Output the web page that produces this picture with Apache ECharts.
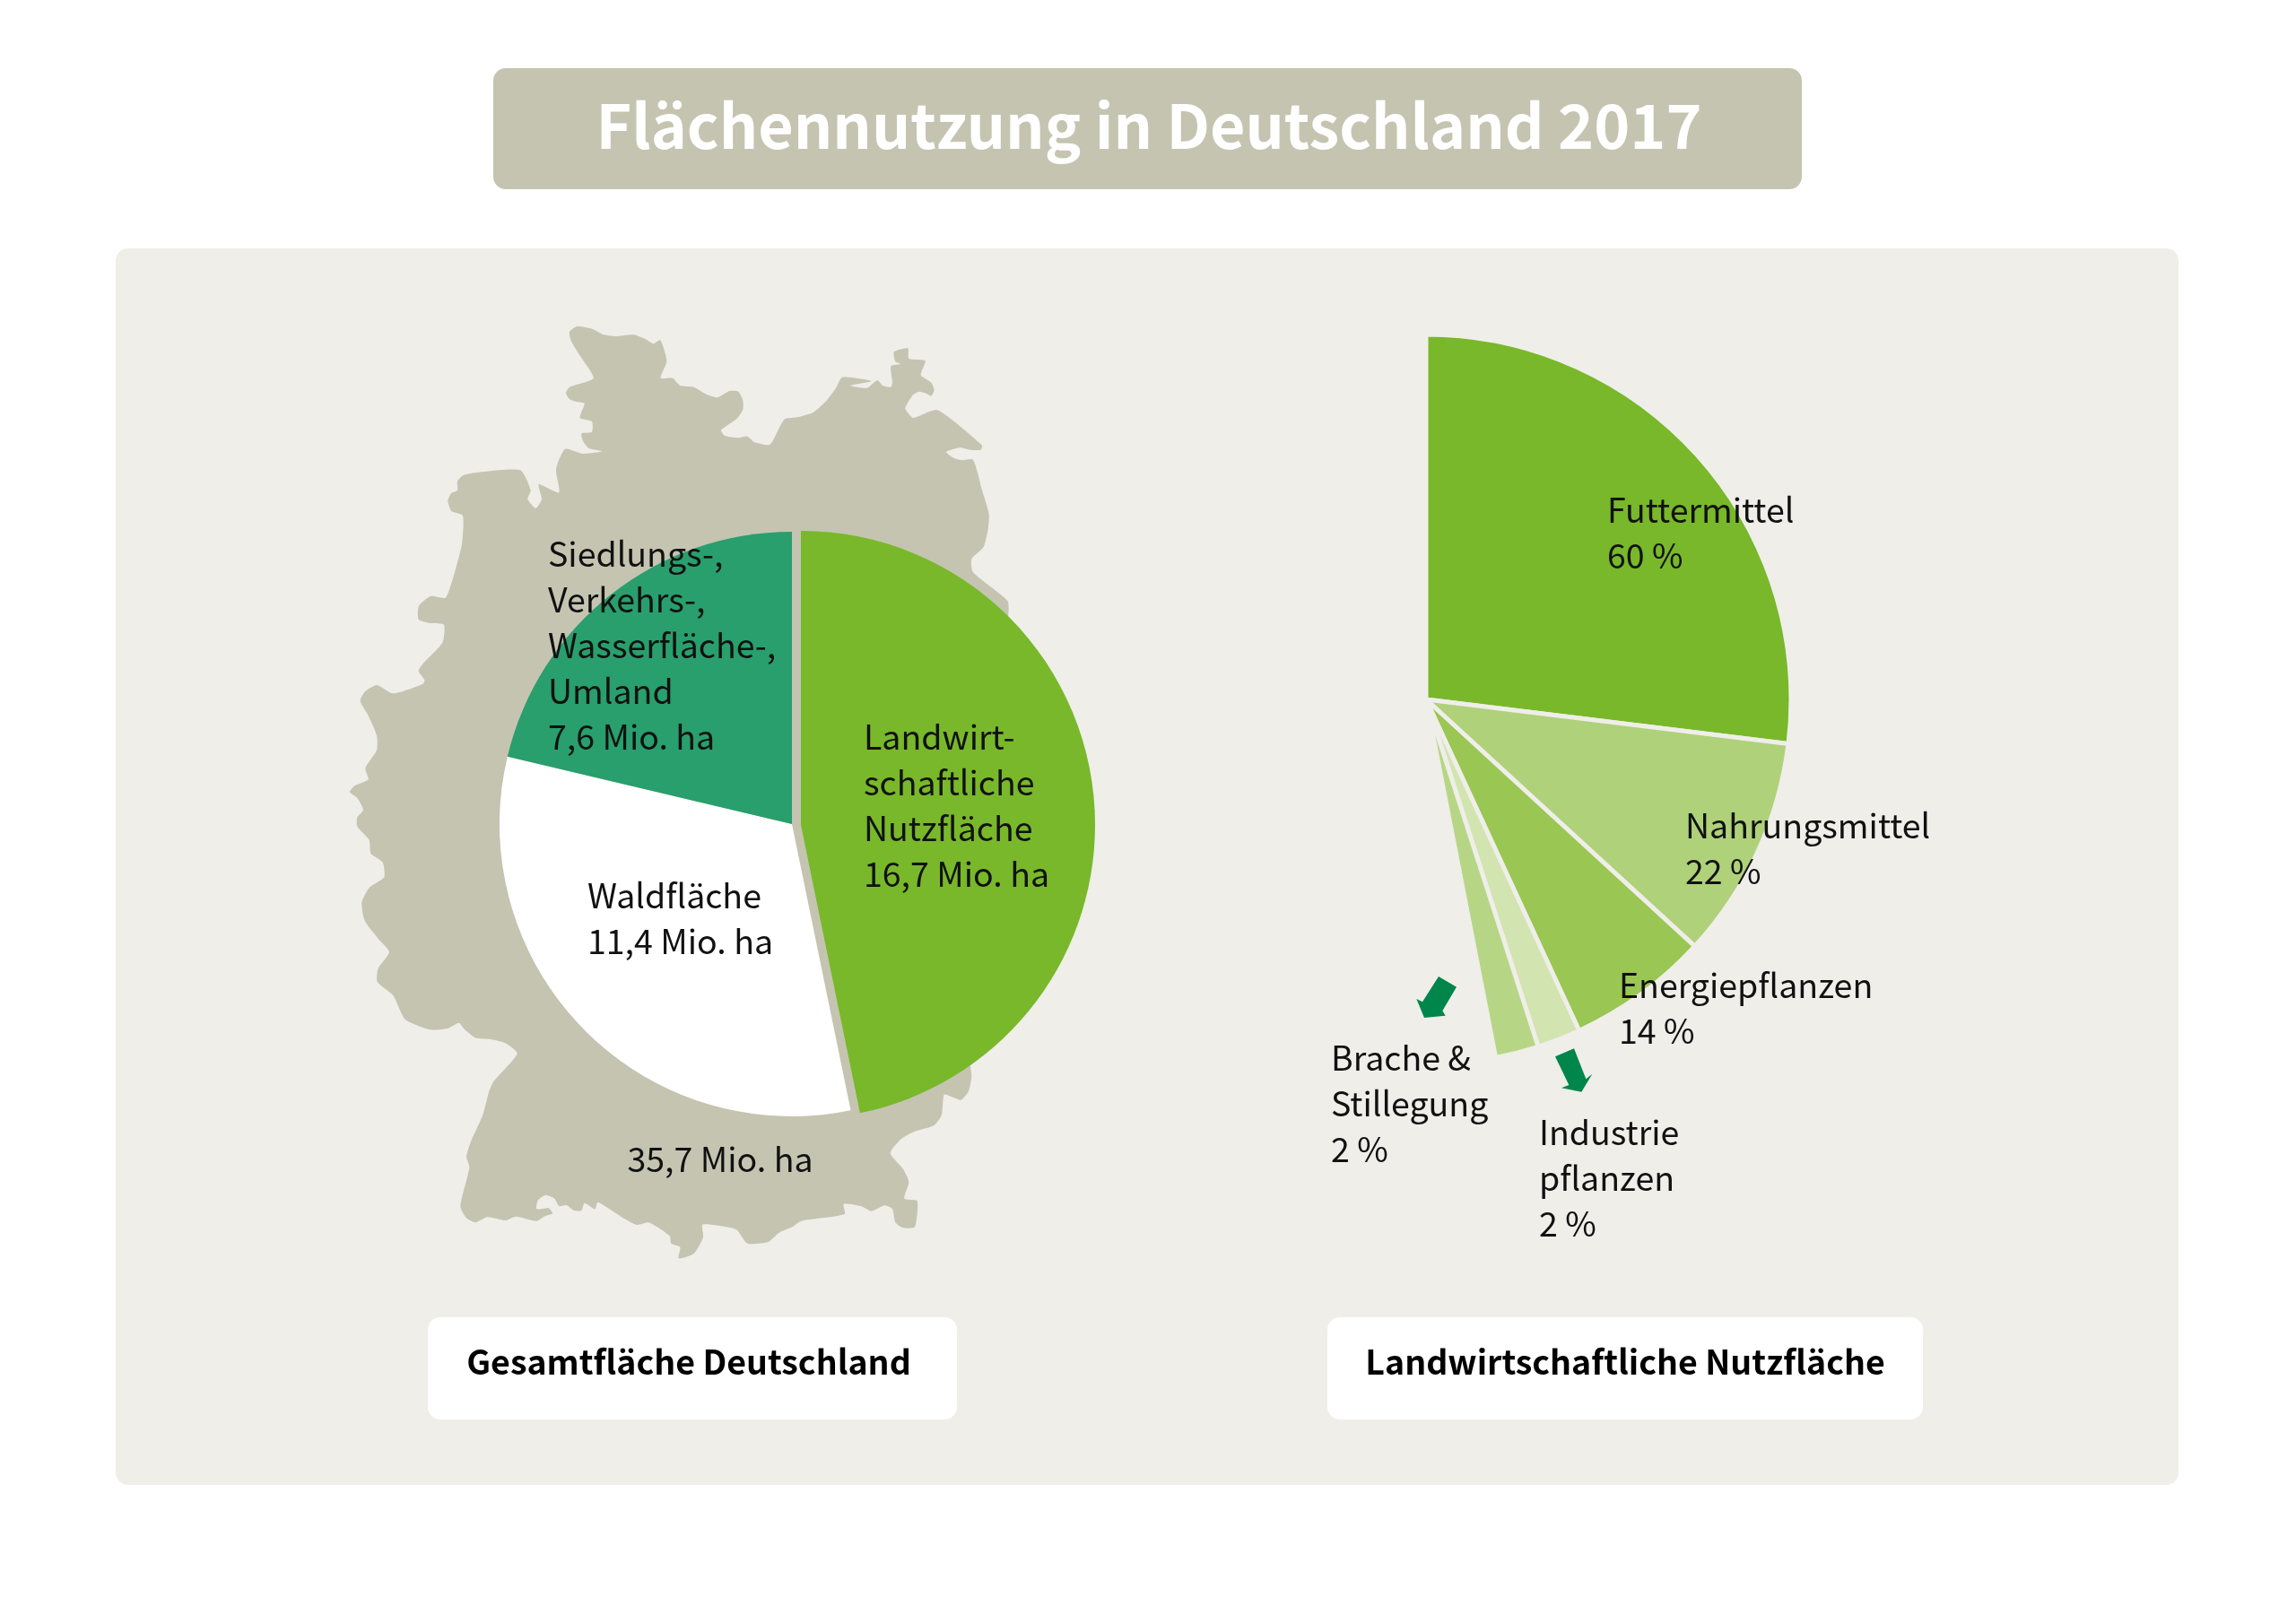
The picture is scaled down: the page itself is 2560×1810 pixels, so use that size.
<!DOCTYPE html>
<html>
<head>
<meta charset="utf-8">
<title>Flächennutzung in Deutschland 2017</title>
<script src="https://cdn.jsdelivr.net/npm/echarts@6/dist/echarts.min.js"></script>
<style>
html, body { margin: 0; padding: 0; background: #fff; }
#main { width: 2560px; height: 1810px; }
</style>
</head>
<body>
<div id="main"></div>
<script>
var titleText = 'Flächennutzung in Deutschland 2017';

// Gesamtfläche, Mio. ha
var totalLabel = '35,7 Mio. ha';
var areaNames = ['Landwirt-\nschaftliche\nNutzfläche', 'Waldfläche', 'Siedlungs-,\nVerkehrs-,\nWasserfläche-,\nUmland'];
var areaValues = [16.7, 11.4, 7.6];
var areaHeading = 'Gesamtfläche Deutschland';

// Landwirtschaftliche Nutzfläche, Prozent
var useNames = ['Futtermittel', 'Nahrungsmittel', 'Energiepflanzen', 'Industrie\npflanzen', 'Brache &\nStillegung'];
var useValues = [60, 22, 14, 2, 2];
var useHeading = 'Landwirtschaftliche Nutzfläche';

var FONT = '"Noto Sans CJK SC", "Noto Sans", sans-serif';
var TEXT = '#111111';
var MAP = '#c5c4b1';
var PANEL = '#efeee9';

var areaColors = ['#78b82a', '#ffffff', '#289f6c'];
var useColors = ['#78b82a', '#afd17a', '#9ac653', '#d2e4b0', '#b6d685'];

// label anchors (left, top) in page pixels
var areaLabelPos = [[963, 796], [655, 973], [611, 592]];
var useLabelPos = [[1792, 543], [1879, 895], [1805, 1073], [1716, 1237], [1484, 1154]];

var outline = [
    [480, 350, [465,60, 490,42, 540,50, 580,70, 620,75, 680,70, 720,85, 745,100, 768,88, 780,115, 790,160, 770,215,
        810,215, 835,240, 880,245, 925,270, 960,280, 1000,258, 1030,260, 1045,290, 1045,320, 1025,350, 990,375, 972,390]],
    [780, 350, [85,408, 130,415, 160,410, 185,430, 235,438, 265,385, 285,352, 330,345, 380,330, 425,290, 455,250, 478,212,
        575,225, 505,240, 560,248, 595,222, 612,240, 640,245, 645,230, 640,175, 672,168, 655,160, 650,127, 697,115, 700,150,
        755,157, 740,205, 775,230, 785,255, 775,275, 755,265, 735,260, 715,270, 695,300, 688,318, 715,348, 795,322, 945,440,
        940,455, 905,455, 870,448, 825,462, 850,482, 880,490, 915,488, 945,590, 968,670, 965,720, 950,780, 910,820, 915,865,
        1030,960, 1033,1005, 960,1650]],
    [780, 1100, [905,255, 910,300, 900,350, 875,380, 850,372, 818,362, 810,430, 785,465, 720,485, 675,510, 638,558, 680,610,
        700,655, 685,710, 728,718, 720,805, 680,808, 655,790, 645,745, 620,733, 575,752, 540,735, 482,728, 485,762, 340,785,
        310,805, 265,825, 230,855, 160,860, 125,815, 90,805]],
    [480, 1100, [910,797, 912,840, 880,895, 830,910, 835,872, 805,860, 800,835, 730,790, 690,798, 650,778, 560,722, 550,745,
        515,725, 505,750, 480,750, 455,732, 430,735, 415,710, 385,698, 360,715, 355,745, 395,742, 408,760, 380,770, 355,785,
        285,770, 250,783, 190,772, 150,790, 120,775, 100,735, 130,605, 120,570, 135,520, 175,430, 195,355, 210,320, 290,225,
        250,190, 205,178, 150,172, 115,145, 95,122, 60,140, 0,145]],
    [370, 740, [245,1190, 205,1110, 152,1065, 155,1020, 192,965, 155,920, 110,860, 100,800, 125,750, 175,715, 170,665, 130,635,
        125,590, 85,545, 85,515, 105,490, 85,450, 60,430, 75,410, 122,388, 112,350, 150,290, 150,240, 120,170, 95,125, 110,95,
        150,72, 205,100, 305,68, 310,55, 290,25, 305,0]],
    [480, 350, [40,1100, 45,1040, 0,1035, -40,1022, -39,977, 0,945, 50,950, 75,885, 105,770, 108,675, 70,660, 58,625, 70,600, 90,590, 90,560,
        110,540, 160,530, 300,523, 335,590, 325,620, 352,650, 372,620, 362,570, 430,598, 420,520, 450,452, 510,468, 575,460,
        530,450, 510,425, 505,400, 540,395, 540,360, 500,348, 515,300, 490,295, 465,285, 453,265, 465,245, 545,215, 500,140, 470,90]]
];

var arrows = [
    [1560, 1070, [132,57, 192,92, 145,172, 155,188, 84,195, 58,132, 78,142]],
    [1700, 1130, [102,145, 165,118, 205,220, 226,203, 190,263, 123,250, 148,240]]
];

function toPoints(parts) {
    var res = [];
    parts.forEach(function (p) {
        for (var i = 0; i < p[2].length; i += 2) {
            res.push([p[0] + p[2][i] / 3, p[1] + p[2][i + 1] / 3]);
        }
    });
    return res;
}

function box(x, y, w, h, r, color) {
    return { type: 'rect', shape: { x: x, y: y, width: w, height: h, r: r }, style: { fill: color } };
}

function label(text, x, y, size, weight, color) {
    return {
        type: 'text', z: 10, x: x, y: y,
        style: { text: text, fill: color, font: weight + ' ' + size + 'px ' + FONT, textAlign: 'center', textVerticalAlign: 'middle' }
    };
}

function labelStyle(formatter) {
    return {
        show: true,
        position: 'inside',
        color: TEXT,
        fontFamily: FONT,
        fontSize: 37.5,
        lineHeight: 51,
        align: 'left',
        formatter: formatter
    };
}

function areaLabel(p) {
    return p.name + '\n' + String(p.value).replace('.', ',') + ' Mio. ha';
}

function useLabel(p) {
    return p.name + '\n' + p.value + ' %';
}

// the farm slice sits 10px to the right of the rest, so it gets its own pie
var areaTotal = areaValues[0] + areaValues[1] + areaValues[2];
var farmSweep = areaValues[0] / areaTotal * 360;

// right fan spans 169 deg; the two 2 % wedges are drawn wider than their share
// (minAngle has no effect together with endAngle, so they get their own pie)
var FAN_START = 90;
var FAN_SPLIT = 155.2;
var FAN_END = 169;

function usePie(from, to, startAngle, endAngle) {
    return {
        type: 'pie',
        center: [1590, 780],
        radius: [0, 407],
        startAngle: startAngle,
        endAngle: endAngle,
        silent: true,
        avoidLabelOverlap: false,
        itemStyle: { borderWidth: 5, borderColor: PANEL },
        label: labelStyle(useLabel),
        labelLine: { show: false },
        labelLayout: function (p) {
            var pos = useLabelPos[from + p.dataIndex];
            return { x: pos[0], y: pos[1], align: 'left', verticalAlign: 'top' };
        },
        data: useNames.slice(from, to).map(function (n, i) {
            return { name: n, value: useValues[from + i], itemStyle: { color: useColors[from + i] } };
        })
    };
}

var myChart = echarts.init(document.getElementById('main'));

var option = {
    backgroundColor: '#ffffff',
    animation: false,
    graphic: {
        elements: [
            box(550, 76, 1459, 135, 14, MAP),
            box(129, 277, 2300, 1379, 14, PANEL),
            { type: 'polygon', shape: { points: toPoints(outline), smooth: 0.2 }, style: { fill: MAP } },
            box(477, 1469, 590, 114, 14, '#ffffff'),
            box(1480, 1469, 664, 114, 14, '#ffffff'),
            { type: 'polygon', shape: { points: toPoints([arrows[0]]) }, style: { fill: '#00864b' } },
            { type: 'polygon', shape: { points: toPoints([arrows[1]]) }, style: { fill: '#00864b' } },
            label(titleText, 1281, 140, 68, 700, '#ffffff'),
            label(areaHeading, 768, 1519, 37.5, 700, '#000000'),
            label(useHeading, 1812, 1519, 37.5, 700, '#000000'),
            label(totalLabel, 803, 1293, 37.5, 400, TEXT)
        ]
    },
    series: [
        {
            type: 'pie',
            center: [893, 920],
            radius: [0, 328],
            startAngle: 90,
            endAngle: 90 - farmSweep,
            silent: true,
            avoidLabelOverlap: false,
            label: labelStyle(areaLabel),
            labelLine: { show: false },
            labelLayout: function () {
                return { x: areaLabelPos[0][0], y: areaLabelPos[0][1], align: 'left', verticalAlign: 'top' };
            },
            data: [{ name: areaNames[0], value: areaValues[0], itemStyle: { color: areaColors[0] } }]
        },
        {
            type: 'pie',
            center: [883, 919],
            radius: [0, 326],
            startAngle: 90 - farmSweep,
            endAngle: -270,
            silent: true,
            avoidLabelOverlap: false,
            label: labelStyle(areaLabel),
            labelLine: { show: false },
            labelLayout: function (p) {
                var pos = areaLabelPos[p.dataIndex + 1];
                return { x: pos[0], y: pos[1], align: 'left', verticalAlign: 'top' };
            },
            data: areaNames.slice(1).map(function (n, i) {
                return { name: n, value: areaValues[i + 1], itemStyle: { color: areaColors[i + 1] } };
            })
        },
        usePie(0, 3, FAN_START, FAN_START - FAN_SPLIT),
        usePie(3, 5, FAN_START - FAN_SPLIT, FAN_START - FAN_END)
    ]
};

myChart.setOption(option);
</script>
</body>
</html>
